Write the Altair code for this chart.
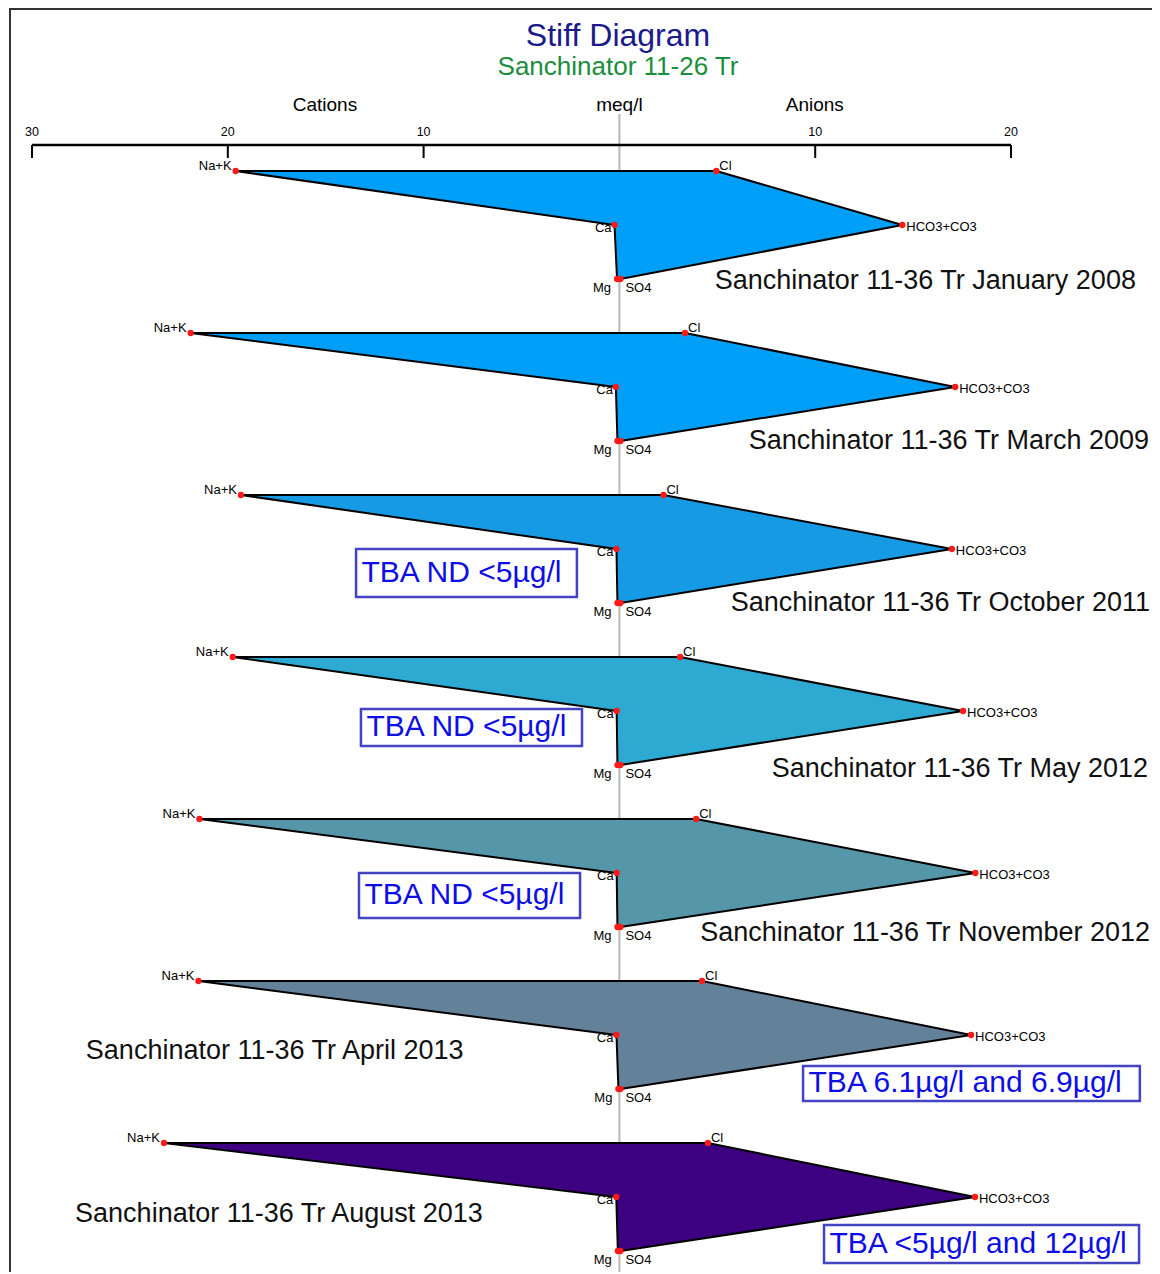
import altair as alt
import pandas as pd

FONT = "Liberation Sans"

# ---------------- data ----------------
samples = ["January 2008", "March 2009", "October 2011", "May 2012",
           "November 2012", "April 2013", "August 2013"]
sample_titles = ["Sanchinator 11-36 Tr " + s for s in samples]

# cations (meq/l)
na_k = [19.6, 21.9, 19.33, 19.75, 21.45, 21.5, 23.26]
ca = [0.25, 0.18, 0.15, 0.14, 0.14, 0.15, 0.16]
mg = [0.12, 0.10, 0.10, 0.10, 0.10, 0.05, 0.08]
# anions (meq/l)
cl = [4.95, 3.35, 2.25, 3.1, 3.92, 4.22, 4.52]
hco3 = [14.45, 17.15, 16.98, 17.55, 18.18, 17.96, 18.16]
so4 = [0.05, 0.05, 0.05, 0.05, 0.05, 0.05, 0.05]

fill_colors = ["#009ff7", "#009ff7", "#169ae4", "#2eaad2",
               "#5596a9", "#64819a", "#3d0080"]

# sample label anchors (meq position, row position, alignment)
label_meq = [26.38, 27.05, 27.1, 27.0, 27.1, -27.25, -27.8]
label_row = [2.04, 5.0, 8.0, 11.07, 14.11, 16.3, 19.31]
label_align = ["right", "right", "right", "right", "right", "left", "left"]

# TBA annotations
tba_text = ["TBA ND <5µg/l", "TBA ND <5µg/l", "TBA ND <5µg/l",
            "TBA 6.1µg/l and 6.9µg/l", "TBA <5µg/l and 12µg/l"]
tba_x1 = [-13.45, -13.2, -13.3, 9.38, 10.45]
tba_x2 = [-2.17, -1.91, -2.01, 26.58, 26.54]
tba_y1 = [7.0, 9.963, 13.0, 16.574, 19.519]
tba_y2 = [7.889, 10.648, 13.833, 17.222, 20.222]

# axis
tick_values = [-30, -20, -10, 10, 20]
tick_labels = ["30", "20", "10", "10", "20"]
header_text = ["Cations", "meq/l", "Anions"]
header_meq = [-15.04, 0, 9.98]

# ---------------- tables ----------------
verts = []
for k, s in enumerate(samples):
    base = 3 * k
    seq = [("Na+K", -na_k[k], base), ("Cl", cl[k], base),
           ("HCO3+CO3", hco3[k], base + 1), ("SO4", so4[k], base + 2),
           ("Mg", -mg[k], base + 2), ("Ca", -ca[k], base + 1)]
    for i, (ion, x, y) in enumerate(seq):
        verts.append(dict(sample=s, ion=ion, meq=x, row=y, order=i))
    verts.append(dict(sample=s, ion="close", meq=-na_k[k], row=base, order=6))
verts = pd.DataFrame(verts)
points = verts[verts["ion"] != "close"]

labels_df = pd.DataFrame(dict(text=sample_titles, meq=label_meq,
                              row=label_row, align=label_align))
tba_df = pd.DataFrame(dict(text=tba_text, x1=tba_x1, x2=tba_x2,
                           y1=tba_y1, y2=tba_y2))
tba_df["xt"] = tba_df["x1"] + 0.28
tba_df["yt"] = (tba_df["y1"] + tba_df["y2"]) / 2
ticks_df = pd.DataFrame(dict(v=tick_values, lab=tick_labels))
head_df = pd.DataFrame(dict(text=header_text, meq=header_meq))
one = pd.DataFrame(dict(a=[-30], b=[20], z=[0]))

W, H = 1144, 1264
xs = alt.Scale(domain=[-31.226, 27.201], nice=False, zero=False)
ys = alt.Scale(domain=[-3.01852, (H - 163) / 54.0], reverse=True, nice=False, zero=False)

# ---------------- layers ----------------
frame_top = alt.Chart(one).mark_rule(color="#333333", strokeWidth=2).encode(
    x=alt.value(2), x2=alt.value(W), y=alt.value(1))
frame_left = alt.Chart(one).mark_rule(color="#333333", strokeWidth=2).encode(
    x=alt.value(2), y=alt.value(0), y2=alt.value(H))

titles = alt.Chart(pd.DataFrame(dict(t=["Stiff Diagram"]))).mark_text(
    font=FONT, fontSize=32, color="#1a1a8a", baseline="middle", align="center"
).encode(x=alt.value(610), y=alt.value(28), text="t:N")
subtitle = alt.Chart(pd.DataFrame(dict(t=["Sanchinator 11-26 Tr"]))).mark_text(
    font=FONT, fontSize=26, color="#1b8e3e", baseline="middle", align="center"
).encode(x=alt.value(610), y=alt.value(59), text="t:N")

zero_line = alt.Chart(one).mark_rule(color="#b8b8b8", strokeWidth=2).encode(
    x=alt.X("z:Q", scale=xs, axis=None), y=alt.value(106), y2=alt.value(H))

axis_line = alt.Chart(one).mark_rule(color="black", strokeWidth=2.5).encode(
    x=alt.X("a:Q", scale=xs, axis=None), x2="b:Q", y=alt.value(137))
ticks = alt.Chart(ticks_df).mark_rule(color="black", strokeWidth=2).encode(
    x=alt.X("v:Q", scale=xs, axis=None), y=alt.value(137), y2=alt.value(150))
tick_text = alt.Chart(ticks_df).mark_text(
    font=FONT, fontSize=12.5, color="black", baseline="middle").encode(
    x=alt.X("v:Q", scale=xs, axis=None), y=alt.value(124), text="lab:N")
headers = alt.Chart(head_df).mark_text(
    font=FONT, fontSize=19, color="black", baseline="middle").encode(
    x=alt.X("meq:Q", scale=xs, axis=None), y=alt.value(97), text="text:N")

polys = alt.Chart(verts).mark_line(
    stroke="black", strokeWidth=2, strokeJoin="round").encode(
    x=alt.X("meq:Q", scale=xs, axis=None),
    y=alt.Y("row:Q", scale=ys, axis=None),
    order="order:Q",
    detail="sample:N",
    fill=alt.Fill("sample:N", scale=alt.Scale(domain=samples, range=fill_colors),
                  legend=None),
)

dots = alt.Chart(points).mark_circle(size=40, color="#ff1a1a", opacity=1).encode(
    x=alt.X("meq:Q", scale=xs, axis=None),
    y=alt.Y("row:Q", scale=ys, axis=None))

label_style = {
    "Na+K": dict(align="right", dx=-4, dy=-5),
    "Cl": dict(align="left", dx=3, dy=-5),
    "HCO3+CO3": dict(align="left", dx=4, dy=2),
    "Ca": dict(align="right", dx=-3, dy=3),
    "Mg": dict(align="right", dx=-6, dy=9),
    "SO4": dict(align="left", dx=5, dy=9),
}
ion_layers = []
for ion, st in label_style.items():
    ion_layers.append(
        alt.Chart(points).transform_filter(alt.datum.ion == ion).mark_text(
            font=FONT, fontSize=13, color="black", baseline="middle", **st
        ).encode(
            x=alt.X("meq:Q", scale=xs, axis=None),
            y=alt.Y("row:Q", scale=ys, axis=None),
            text="ion:N")
    )

sample_layers = []
for al in ["right", "left"]:
    sample_layers.append(
        alt.Chart(labels_df).transform_filter(alt.datum.align == al).mark_text(
            font=FONT, fontSize=27, color="#111111", baseline="middle", align=al
        ).encode(
            x=alt.X("meq:Q", scale=xs, axis=None),
            y=alt.Y("row:Q", scale=ys, axis=None),
            text="text:N")
    )

boxes = alt.Chart(tba_df).mark_rect(
    fill="white", stroke="#4343c4", strokeWidth=2.5).encode(
    x=alt.X("x1:Q", scale=xs, axis=None), x2="x2:Q",
    y=alt.Y("y1:Q", scale=ys, axis=None), y2="y2:Q")
box_text = alt.Chart(tba_df).mark_text(
    font=FONT, fontSize=30, color="#0d0de6", baseline="middle", align="left").encode(
    x=alt.X("xt:Q", scale=xs, axis=None),
    y=alt.Y("yt:Q", scale=ys, axis=None),
    text="text:N")

chart = alt.layer(
    frame_top, frame_left, titles, subtitle, zero_line, axis_line, ticks,
    tick_text, headers, polys, dots, *ion_layers, *sample_layers, boxes, box_text
).properties(
    width=W, height=H,
    autosize=alt.AutoSizeParams(type="none"),
    padding=0,
    background="white",
).configure_view(stroke=None)

chart.save("out.html", embed_options={"renderer": "svg", "actions": False})
